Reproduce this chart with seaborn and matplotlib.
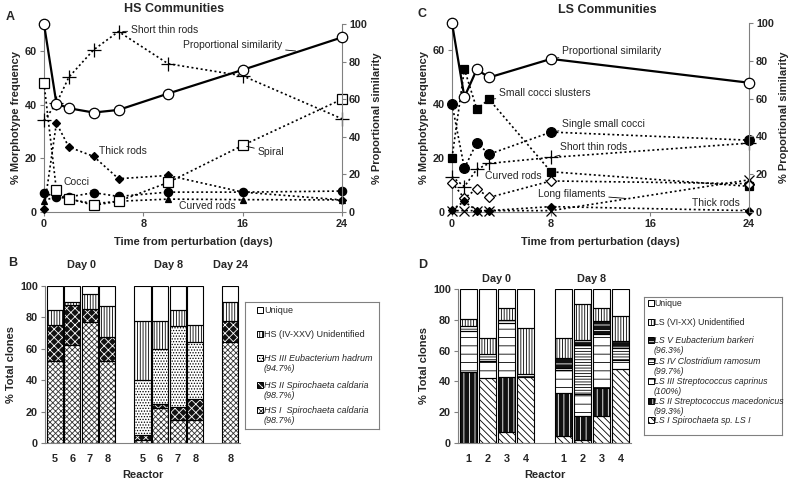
import matplotlib
matplotlib.use("Agg")
import matplotlib.pyplot as plt
import matplotlib.transforms as mtransforms
from matplotlib.patches import Rectangle
import seaborn as sns

# ---------------- data ----------------
# Panel A (HS communities)
hs_days = [0, 1, 2, 4, 6, 10, 16, 24]
hs_prop_sim = [100, 57.7, 55.2, 52.9, 54.3, 63.0, 75.6, 92.9]
hs_short_thin_rods = [34.1, 40.4, 50.2, 60.4, 67.2, 55.2, 50.7, 34.7]
hs_thick_rods = [1.1, 33.1, 24.2, 20.7, 12.4, 13.6, 7.4, 4.5]
hs_cocci = [7.1, 5.6, 5.6, 7.2, 5.8, 7.4, 7.4, 7.8]
hs_curved_rods = [4.2, 5.8, 4.8, 3.1, 4.0, 4.8, 4.6, 4.5]
hs_spiral = [48.0, 8.1, 5.0, 2.5, 4.0, 11.0, 24.8, 42.0]

# Panel C (LS communities)
ls_days = [0, 1, 2, 3, 8, 24]
ls_prop_sim = [100, 60.8, 75.4, 71.2, 81.0, 68.4]
ls_small_cocci_clusters = [20.1, 52.9, 38.2, 41.7, 14.9, 9.5]
ls_single_small_cocci = [40.0, 16.2, 25.7, 21.4, 29.6, 26.6]
ls_short_thin_rods = [13.1, 9.4, 15.8, 18.0, 20.2, 25.5]
ls_curved_rods = [10.9, 5.1, 8.6, 5.4, 11.5, 10.5]
ls_long_filaments = [0.5, 0.5, 0.5, 0.5, 0.5, 11.9]
ls_thick_rods = [0.9, 3.9, 0.5, 0.5, 2.0, 0.5]

# Panel B (HS clone libraries)
hs_reactors = ['5', '6', '7', '8', '5', '6', '7', '8', '8']
hs_groups = ['Day 0', 'Day 8', 'Day 24']
hs_I = [52.2, 62.2, 77.1, 52.2, 2.0, 22.3, 14.4, 14.4, 64.3]
hs_II = [23.2, 25.9, 8.0, 15.3, 3.0, 2.7, 8.6, 13.4, 13.2]
hs_III = [0, 0, 0, 0, 35.0, 35.0, 51.3, 36.5, 0]
hs_unid = [9.5, 1.9, 9.6, 19.8, 37.5, 17.5, 10.7, 10.7, 12.3]
hs_unique = [15.1, 10.0, 5.3, 12.7, 22.5, 22.5, 15.0, 25.0, 10.2]

# Panel D (LS clone libraries)
ls_reactors = ['1', '2', '3', '4', '1', '2', '3', '4']
ls_groups = ['Day 0', 'Day 8']
ls_I = [0, 42.5, 7.2, 42.8, 4.3, 1.7, 17.4, 47.9]
ls_II = [46.2, 0, 35.8, 0, 28.2, 15.7, 18.0, 0]
ls_III = [26.5, 10.6, 34.7, 0, 14.8, 14.7, 35.1, 6.3]
ls_IV = [3.2, 4.9, 2.1, 2.2, 1.7, 31.5, 0, 7.2]
ls_V = [0, 0, 0, 0, 5.9, 3.2, 8.9, 4.8]
ls_unid = [4.6, 9.9, 8.1, 30.0, 13.0, 23.2, 8.0, 16.4]
ls_unique = [19.5, 32.1, 12.1, 25.0, 32.1, 10.0, 12.6, 17.4]

# ---------------- style ----------------
sns.set_theme(style="ticks")
plt.rcParams['font.family'] = ['Liberation Sans', 'DejaVu Sans']
plt.rcParams['hatch.linewidth'] = 0.6
GRAY = '#808080'

fig = plt.figure(figsize=(8, 4.84), dpi=100)


def px_axes(l, t, r, b):
    W, H = 800.0, 484.0
    return fig.add_axes([l / W, 1 - b / H, (r - l) / W, (b - t) / H])


def style_axes(ax, spines=('left', 'bottom')):
    for s in ['left', 'right', 'top', 'bottom']:
        ax.spines[s].set_visible(s in spines)
        ax.spines[s].set_color(GRAY)
        ax.spines[s].set_linewidth(0.8)
    ax.tick_params(length=3, width=0.8, color=GRAY, labelsize=7.8, pad=2)
    for lab in ax.get_xticklabels() + ax.get_yticklabels():
        lab.set_fontweight('bold')


DOT = (0, (1.2, 1.6))


def series(ax, x, y, marker, ms, filled=True, ls=DOT, lw=1.2):
    sns.lineplot(x=x, y=y, ax=ax, color='black', linestyle=ls, linewidth=lw,
                 marker=marker, markersize=ms,
                 markerfacecolor='black' if filled else 'white',
                 markeredgecolor='black', markeredgewidth=0.9,
                 clip_on=False, zorder=3)


def note(ax, text, xyt, xyp):
    ax.annotate(text, xy=xyp, xytext=xyt, fontsize=7.5, va='center', ha='left',
                arrowprops=dict(arrowstyle='-', lw=0.6, color='black',
                                shrinkA=0, shrinkB=3), zorder=5)


LBL = dict(fontsize=8, fontweight='bold')

# ---------------- Panel A ----------------
axA = px_axes(44, 24, 342, 212)
series(axA, hs_days, hs_short_thin_rods, '+', 10)
series(axA, hs_days, hs_thick_rods, 'D', 4.5)
series(axA, hs_days, hs_cocci, 'o', 6)
series(axA, hs_days, hs_curved_rods, '^', 5)
series(axA, hs_days, hs_spiral, 's', 7, filled=False)
axA.set_xlim(0, 24)
axA.set_ylim(0, 70)
axA.set_xticks([0, 8, 16, 24])
axA.set_yticks([0, 20, 40, 60])
axA.set_xlabel('Time from perturbation (days)', labelpad=6, **LBL)
axA.set_ylabel('% Morphotype frequency', labelpad=3, **LBL)
style_axes(axA)
axA2 = axA.twinx()
series(axA2, hs_days, hs_prop_sim, 'o', 7.5, filled=False, ls='-', lw=1.6)
axA2.set_ylim(0, 100)
axA2.set_yticks([0, 20, 40, 60, 80, 100])
axA2.set_ylabel('% Proportional similarity', labelpad=4, **LBL)
style_axes(axA2, spines=('right',))
note(axA, 'Short thin rods', (7.0, 67.6), (6, 67.2))
note(axA, 'Proportional similarity', (11.2, 62.2), (20.6, 59.8))
note(axA, 'Thick rods', (4.4, 22.6), (4, 20.7))
note(axA, 'Spiral', (17.2, 22.3), (16, 24.8))
note(axA, 'Cocci', (1.6, 11.0), (4, 7.2))
note(axA, 'Curved rods', (10.9, 2.4), (16, 4.6))
fig.text(174 / 800, 1 - 9 / 484, 'HS Communities', ha='center', va='center',
         fontsize=9, fontweight='bold')
fig.text(6 / 800, 1 - 17 / 484, 'A', ha='left', va='center', fontsize=9, fontweight='bold')

# ---------------- Panel C ----------------
axC = px_axes(452, 23, 749, 212)
series(axC, ls_days, ls_small_cocci_clusters, 's', 5.5)
series(axC, ls_days, ls_single_small_cocci, 'o', 7)
series(axC, ls_days, ls_short_thin_rods, '+', 10)
series(axC, ls_days, ls_curved_rods, 'D', 5.5, filled=False)
series(axC, ls_days, ls_long_filaments, 'x', 7)
series(axC, ls_days, ls_thick_rods, 'D', 4.5)
axC.set_xlim(0, 24)
axC.set_ylim(0, 70)
axC.set_xticks([0, 8, 16, 24])
axC.set_yticks([0, 20, 40, 60])
axC.set_xlabel('Time from perturbation (days)', labelpad=6, **LBL)
axC.set_ylabel('% Morphotype frequency', labelpad=3, **LBL)
style_axes(axC)
axC2 = axC.twinx()
series(axC2, ls_days, ls_prop_sim, 'o', 7.5, filled=False, ls='-', lw=1.6)
axC2.set_ylim(0, 100)
axC2.set_yticks([0, 20, 40, 60, 80, 100])
axC2.set_ylabel('% Proportional similarity', labelpad=4, **LBL)
style_axes(axC2, spines=('right',))
note(axC, 'Proportional similarity', (8.9, 59.6), (8, 56.8))
note(axC, 'Small cocci slusters', (3.8, 43.9), (3, 41.7))
note(axC, 'Single small cocci', (8.9, 32.7), (8, 29.6))
note(axC, 'Short thin rods', (8.7, 24.1), (8, 20.2))
note(axC, 'Curved rods', (2.7, 13.5), (8, 11.5))
note(axC, 'Long filaments', (6.95, 6.6), (14.4, 4.9))
note(axC, 'Thick rods', (19.4, 3.3), (24, 0.5))
fig.text(607 / 800, 1 - 10 / 484, 'LS Communities', ha='center', va='center',
         fontsize=9, fontweight='bold')
fig.text(418 / 800, 1 - 14 / 484, 'C', ha='left', va='center', fontsize=9, fontweight='bold')


# ---------------- stacked bars ----------------
def stacked(ax, xs, layers, styles, width=0.92):
    bottoms = [0.0] * len(xs)
    for vals, (fc, hc, hatch) in zip(layers, styles):
        for i, (x, v) in enumerate(zip(xs, vals)):
            if v <= 0:
                continue
            ax.bar(x, v, bottom=bottoms[i], width=width, facecolor=fc,
                   edgecolor=hc, hatch=hatch, linewidth=0, zorder=2)
            ax.bar(x, v, bottom=bottoms[i], width=width, fill=False,
                   edgecolor='black', linewidth=0.8, zorder=3)
            bottoms[i] += v


def legend_box(l, t, r, b):
    lax = px_axes(l, t, r, b)
    lax.set_xlim(0, r - l)
    lax.set_ylim(b - t, 0)
    lax.set_xticks([])
    lax.set_yticks([])
    for s in lax.spines.values():
        s.set_color(GRAY)
        s.set_linewidth(0.8)
    lax.set_facecolor('white')
    return lax


def legend_items(lax, items, sq_x, txt_x, fs):
    for (label, y, style, italic) in items:
        fc, hc, hatch = style
        lax.add_patch(Rectangle((sq_x, y - 3), 6, 6, facecolor=fc, edgecolor=hc,
                                hatch=hatch, linewidth=0))
        lax.add_patch(Rectangle((sq_x, y - 3), 6, 6, fill=False, edgecolor='black',
                                linewidth=0.7))
        lax.text(txt_x, y - 4, label, fontsize=fs, va='top', ha='left',
                 style='italic' if italic else 'normal', linespacing=1.2)


# Panel B
hs_x = [0, 1, 2, 3, 5, 6, 7, 8, 10]
hs_styles = [('white', '#333333', 'xxxxxx'),
             ('#111111', 'white', 'xxxx'),
             ('white', 'black', '......'),
             ('white', 'black', '||||||'),
             ('white', 'black', '')]
axB = px_axes(45, 286, 240, 443)
stacked(axB, hs_x, [hs_I, hs_II, hs_III, hs_unid, hs_unique], hs_styles)
axB.set_xlim(-0.55, 10.55)
axB.set_ylim(0, 100)
axB.set_yticks([0, 20, 40, 60, 80, 100])
axB.set_xticks(hs_x)
axB.set_xticklabels(hs_reactors)
axB.set_xlabel('Reactor', labelpad=4, **LBL)
axB.set_ylabel('% Total clones', labelpad=3, **LBL)
style_axes(axB)
axB.tick_params(axis='x', length=0, pad=8)
trB = mtransforms.blended_transform_factory(axB.transData, axB.transAxes)
for g, xc in zip(hs_groups, [1.5, 6.5, 10]):
    axB.text(xc, 1.134, g, transform=trB, ha='center', va='center',
             fontsize=7.8, fontweight='bold')
fig.text(8 / 800, 1 - 263 / 484, 'B', ha='left', va='center', fontsize=9, fontweight='bold')

lb = legend_box(245, 302, 379, 429)
legend_items(lb, [
    ('Unique', 8, hs_styles[4], False),
    ('HS (IV-XXV) Unidentified', 32, hs_styles[3], False),
    ('HS III Eubacterium hadrum\n(94.7%)', 56, hs_styles[2], True),
    ('HS II Spirochaeta caldaria\n(98.7%)', 83, hs_styles[1], True),
    ('HS I  Spirochaeta caldaria\n(98.7%)', 108, hs_styles[0], True),
], 12, 19, 6.5)

# Panel D
ls_x = [0, 1, 2, 3, 5, 6, 7, 8]
ls_styles = [('white', 'black', '\\\\\\\\\\'),
             ('#111111', 'white', '|||'),
             ('white', 'black', '--'),
             ('white', 'black', '------'),
             ('#111111', 'white', '---'),
             ('white', 'black', '||||||'),
             ('white', 'black', '')]
axD = px_axes(458, 289, 631, 443)
stacked(axD, ls_x, [ls_I, ls_II, ls_III, ls_IV, ls_V, ls_unid, ls_unique], ls_styles)
axD.set_xlim(-0.55, 8.55)
axD.set_ylim(0, 100)
axD.set_yticks([0, 20, 40, 60, 80, 100])
axD.set_xticks(ls_x)
axD.set_xticklabels(ls_reactors)
axD.set_xlabel('Reactor', labelpad=4, **LBL)
axD.set_ylabel('% Total clones', labelpad=3, **LBL)
style_axes(axD)
axD.tick_params(axis='x', length=0, pad=8)
trD = mtransforms.blended_transform_factory(axD.transData, axD.transAxes)
for g, xc in zip(ls_groups, [1.5, 6.5]):
    axD.text(xc, 1.065, g, transform=trD, ha='center', va='center',
             fontsize=7.8, fontweight='bold')
fig.text(418 / 800, 1 - 265 / 484, 'D', ha='left', va='center', fontsize=9, fontweight='bold')

ld = legend_box(644, 297, 782, 435)
legend_items(ld, [
    ('Unique', 6, ls_styles[6], False),
    ('LS (VI-XX) Unidentified', 25, ls_styles[5], False),
    ('LS V Eubacterium barkeri\n(96.3%)', 43, ls_styles[4], True),
    ('LS IV Clostridium ramosum\n(99.7%)', 64, ls_styles[3], True),
    ('LS III Streptococcus caprinus\n(100%)', 84, ls_styles[2], True),
    ('LS II Streptococcus macedonicus\n(99.3%)', 104, ls_styles[1], True),
    ('LS I Spirochaeta sp. LS I', 123, ls_styles[0], True),
], 4, 10, 6.3)

fig.savefig('out.png', dpi=100)
